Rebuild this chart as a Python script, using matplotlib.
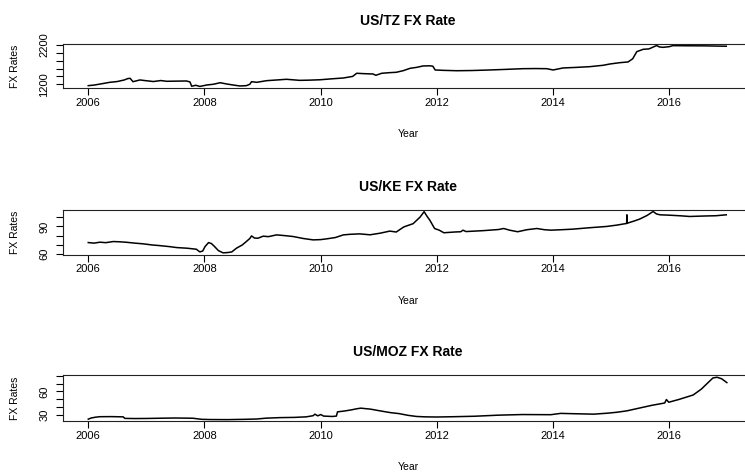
import matplotlib
matplotlib.use("Agg")
import matplotlib.pyplot as plt

plt.rcParams['font.family'] = ['Liberation Sans', 'DejaVu Sans']

# values (decimal year, rate)
tz_year = [2006.00, 2006.10, 2006.20, 2006.37, 2006.50, 2006.62, 2006.68, 2006.72, 2006.77, 2006.89,
           2007.00, 2007.12, 2007.25, 2007.35, 2007.50, 2007.69, 2007.75, 2007.78, 2007.85, 2007.92,
           2008.04, 2008.15, 2008.27, 2008.38, 2008.50, 2008.61, 2008.72, 2008.78, 2008.81, 2008.90,
           2009.07, 2009.25, 2009.41, 2009.64, 2009.80, 2009.99, 2010.20, 2010.39, 2010.55, 2010.62,
           2010.75, 2010.90, 2010.95, 2011.05, 2011.19, 2011.30, 2011.42, 2011.54, 2011.65, 2011.76,
           2011.88, 2011.93, 2011.97, 2012.10, 2012.34, 2012.60, 2012.91, 2013.20, 2013.48, 2013.70,
           2013.89, 2014.00, 2014.17, 2014.40, 2014.63, 2014.86, 2014.98, 2015.15, 2015.29, 2015.37,
           2015.44, 2015.55, 2015.65, 2015.78, 2015.83, 2015.89, 2016.00, 2016.06, 2016.30, 2016.60,
           2016.98]
tz_rate = [1165, 1180, 1205, 1250, 1270, 1310, 1345, 1352, 1266, 1310,
           1290, 1270, 1295, 1276, 1280, 1284, 1260, 1150, 1175, 1145,
           1182, 1200, 1240, 1208, 1180, 1157, 1165, 1200, 1266, 1250,
           1292, 1310, 1327, 1300, 1305, 1315, 1340, 1360, 1400, 1480,
           1470, 1462, 1429, 1480, 1496, 1505, 1546, 1607, 1630, 1666,
           1670, 1660, 1564, 1555, 1545, 1550, 1564, 1580, 1597, 1600,
           1597, 1564, 1615, 1630, 1648, 1683, 1717, 1750, 1768, 1850,
           2030, 2090, 2100, 2185, 2150, 2140, 2157, 2183, 2180, 2178,
           2168]

ke_year = [2006.00, 2006.10, 2006.20, 2006.30, 2006.43, 2006.55, 2006.66, 2006.80, 2006.95, 2007.10,
           2007.23, 2007.40, 2007.52, 2007.70, 2007.86, 2007.92, 2007.97, 2008.01, 2008.07, 2008.12,
           2008.17, 2008.24, 2008.32, 2008.40, 2008.47, 2008.55, 2008.65, 2008.72, 2008.78, 2008.81,
           2008.86, 2008.92, 2009.01, 2009.10, 2009.24, 2009.40, 2009.53, 2009.70, 2009.87, 2010.00,
           2010.10, 2010.25, 2010.39, 2010.50, 2010.67, 2010.85, 2011.02, 2011.19, 2011.30, 2011.43,
           2011.59, 2011.71, 2011.78, 2011.83, 2011.88, 2011.96, 2012.04, 2012.12, 2012.30, 2012.41,
           2012.45, 2012.50, 2012.80, 2013.06, 2013.15, 2013.25, 2013.39, 2013.55, 2013.72, 2013.85,
           2013.96, 2014.15, 2014.34, 2014.60, 2014.92, 2015.10, 2015.23, 2015.265, 2015.27, 2015.275,
           2015.40, 2015.49, 2015.62, 2015.72, 2015.78, 2015.84, 2016.00, 2016.20, 2016.35, 2016.60,
           2016.80, 2016.98]
ke_rate = [72.6, 72.0, 73.0, 72.5, 73.7, 73.4, 72.9, 72.0, 71.2, 70.0,
           69.3, 68.2, 67.2, 66.5, 65.4, 62.5, 63.5, 68.3, 72.6, 71.5,
           68.5, 63.9, 61.5, 61.8, 62.5, 66.5, 70.0, 73.7, 77.0, 79.8,
           77.5, 77.3, 79.5, 79.0, 80.9, 80.0, 79.1, 77.0, 75.5, 75.8,
           76.6, 78.0, 80.9, 81.5, 82.0, 81.0, 82.7, 85.0, 84.0, 89.5,
           93.0, 100.1, 106.0, 101.0, 96.6, 87.8, 86.0, 83.2, 84.0, 84.3,
           86.0, 84.5, 85.5, 86.7, 87.8, 86.0, 84.3, 86.5, 87.8, 86.5,
           86.0, 86.5, 87.1, 88.5, 90.0, 91.5, 92.9, 93.2, 102.6, 93.5,
           96.0, 98.0, 102.0, 106.2, 103.5, 102.6, 102.2, 101.5, 100.8, 101.3,
           101.6, 102.6]

moz_year = [2006.00, 2006.05, 2006.12, 2006.20, 2006.40, 2006.60, 2006.63, 2006.80, 2007.00, 2007.30,
            2007.50, 2007.80, 2007.95, 2008.10, 2008.40, 2008.70, 2008.90, 2009.06, 2009.30, 2009.55,
            2009.75, 2009.87, 2009.90, 2009.95, 2010.00, 2010.05, 2010.20, 2010.27, 2010.29, 2010.40,
            2010.53, 2010.62, 2010.69, 2010.86, 2011.02, 2011.20, 2011.35, 2011.50, 2011.65, 2011.80,
            2012.00, 2012.30, 2012.65, 2013.06, 2013.47, 2013.96, 2014.13, 2014.40, 2014.70, 2014.94,
            2015.10, 2015.27, 2015.49, 2015.70, 2015.92, 2015.95, 2015.99, 2016.16, 2016.41, 2016.55,
            2016.66, 2016.75, 2016.82, 2016.90, 2016.99]
moz_rate = [24.0, 25.5, 26.5, 27.2, 27.3, 27.0, 25.0, 24.8, 24.9, 25.3,
            25.5, 25.2, 23.8, 23.5, 23.4, 23.8, 24.2, 25.3, 26.0, 26.3,
            27.0, 28.5, 30.5, 28.3, 30.0, 28.0, 27.5, 28.0, 33.5, 34.5,
            36.1, 37.5, 38.3, 37.0, 34.8, 32.5, 31.2, 29.0, 27.5, 27.0,
            26.8, 27.2, 27.8, 29.2, 30.0, 29.8, 31.5, 31.0, 30.5, 31.8,
            33.0, 34.8, 38.5, 42.0, 45.0, 49.5, 46.0, 49.5, 55.4, 63.0,
            71.0, 77.5, 78.5, 76.5, 71.5]

titles = ["US/TZ FX Rate", "US/KE FX Rate", "US/MOZ FX Rate"]
x_ticks = [2006, 2008, 2010, 2012, 2014, 2016]
tz_ticks = [1200, 1400, 1600, 1800, 2000, 2200]
tz_labels = ["1200", "", "", "", "", "2200"]
ke_ticks = [60, 70, 80, 90, 100]
ke_labels = ["60", "", "", "90", ""]
moz_ticks = [30, 40, 50, 60, 70, 80]
moz_labels = ["30", "", "", "60", "", ""]

W, H = 745, 474
fig = plt.figure(figsize=(W / 100, H / 100), dpi=100)

# box edges in pixels (left, right, top, bottom) - plot area runs past the right edge
box_left, box_right = 62.7, 753
panel_rows = [(44, 87.7), (210, 254.5), (375.3, 420.7)]
ylims = [(1113, 2225), (59.7, 107.8), (22.0, 81.0)]

series = [(tz_year, tz_rate, tz_ticks, tz_labels),
          (ke_year, ke_rate, ke_ticks, ke_labels),
          (moz_year, moz_rate, moz_ticks, moz_labels)]

px = 0.72  # points per pixel at 100 dpi

for (top, bot), (xs, ys, yt, yl), title, lim in zip(panel_rows, series, titles, ylims):
    ax = fig.add_axes([box_left / W, 1 - bot / H, (box_right - box_left) / W, (bot - top) / H])
    ax.plot(xs, ys, color='black', lw=1.1)
    ax.set_xlim(2005.56, 2017.44)
    ax.set_ylim(*lim)
    ax.set_xticks(x_ticks)
    ax.set_xticklabels([str(t) for t in x_ticks], fontsize=8)
    ax.set_yticks(yt)
    ax.set_yticklabels(yl, fontsize=8, rotation=90, va='center')
    ax.tick_params(axis='x', direction='out', length=5, width=0.8, pad=2.2)
    ax.tick_params(axis='y', direction='out', length=5, width=0.8, pad=4.8)
    for sp in ax.spines.values():
        sp.set_linewidth(0.8)
        sp.set_color('#222222')

    ax.annotate(title, xy=(0.5, 1), xycoords='axes fraction', xytext=(0, 23 * px),
                textcoords='offset points', ha='center', va='center',
                fontsize=10, fontweight='bold')
    ax.annotate("Year", xy=(0.5, 0), xycoords='axes fraction', xytext=(0, -46 * px),
                textcoords='offset points', ha='center', va='center', fontsize=7.5)
    ax.annotate("FX Rates", xy=(0, 0.5), xycoords='axes fraction',
                xytext=((15 - box_left) * px, 0), textcoords='offset points',
                ha='center', va='center', rotation=90, fontsize=7.5)

fig.savefig("out.png", dpi=100)
